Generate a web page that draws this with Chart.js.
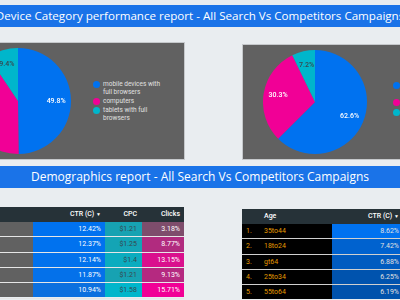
<!DOCTYPE html>
<html>
<head>
<meta charset="utf-8">
<script src="https://cdn.jsdelivr.net/npm/chart.js@4"></script>
<style>
  body { margin: 0; width: 400px; height: 300px; overflow: hidden; background: #e9edf0; position: relative; font-family: Roboto, sans-serif; }
  .banner { position: absolute; left: 0; width: 400px; height: 22px; background: #1a73e8; color: #fff; font-family: 'Open Sans', sans-serif; font-size: 12px; line-height: 22px; white-space: nowrap; overflow: hidden; display: flex; justify-content: center; }
  .banner span { flex: none; }
  .panel { position: absolute; background: #616161; border: 1px solid #c5c8cb; box-sizing: border-box; }
  .pie { position: absolute; }
  .leg { position: absolute; color: #e0e0e0; font-size: 6.5px; line-height: 8px; white-space: nowrap; }
  .leg i { position: absolute; left: -10px; top: 0.5px; width: 7px; height: 7px; border-radius: 50%; }
  .cell { position: absolute; box-sizing: border-box; font-size: 7px; white-space: nowrap; overflow: hidden; }
</style>
</head>
<body>
<div class="banner" style="top:5px;font-size:11.6px"><span>Device Category performance report - All Search Vs Competitors Campaigns</span></div>
<div class="panel" style="left:-2px;top:42px;width:187px;height:118px"></div>
<div class="panel" style="left:242px;top:44px;width:170px;height:116px"></div>
<canvas id="pieAll" class="pie" width="106" height="106" style="left:-35px;top:48px"></canvas>
<canvas id="pieComp" class="pie" width="104" height="104" style="left:263px;top:50px"></canvas>
<div id="legAll"></div>
<div id="legComp"></div>
<div class="banner" style="top:166px"><span>Demographics report - All Search Vs Competitors Campaigns</span></div>
<div id="tblDevice"></div>
<div id="tblAge"></div>
<script>
// device category shares (%)
const deviceLabels = [['mobile devices with', 'full browsers'], ['computers'], ['tablets with full', 'browsers']];
const allSearchShare = [49.8, 40.8, 9.4];
const competitorsShare = [62.6, 30.3, 7.2];
const sliceColors = ['#0072f0', '#f10096', '#00b6cb'];

// left table (rows sorted by CTR)
const ctrValues = [12.42, 12.37, 12.14, 11.87, 10.94];
const cpcValues = [1.21, 1.25, 1.4, 1.21, 1.58];
const clickShares = [3.18, 8.77, 13.15, 9.13, 15.71];

// age table
const ageGroups = ['35to44', '18to24', 'gt64', '25to34', '55to64'];
const ageCtr = [8.62, 7.42, 6.88, 6.25, 6.19];

// draws the % text inside each slice
const sliceLabels = {
  id: 'sliceLabels',
  afterDatasetsDraw(chart) {
    const ctx = chart.ctx;
    const values = chart.data.datasets[0].data;
    chart.getDatasetMeta(0).data.forEach((arc, i) => {
      const mid = (arc.startAngle + arc.endAngle) / 2;
      const r = arc.outerRadius * 0.72;
      ctx.save();
      ctx.font = '500 7px Roboto';
      ctx.textAlign = 'center';
      ctx.textBaseline = 'middle';
      ctx.fillStyle = i === 2 ? '#37474f' : '#ffffff';
      ctx.fillText(values[i].toFixed(1) + '%', arc.x + Math.cos(mid) * r, arc.y + Math.sin(mid) * r);
      ctx.restore();
    });
  }
};

const makePie = (id, values) => new Chart(document.getElementById(id), {
  type: 'pie',
  data: {
    labels: deviceLabels.map(l => l.join(' ')),
    datasets: [{ data: values, backgroundColor: sliceColors, borderWidth: 0 }]
  },
  options: {
    responsive: false,
    animation: false,
    plugins: { legend: { display: false }, tooltip: { enabled: false } }
  },
  plugins: [sliceLabels]
});
makePie('pieAll', allSearchShare);
makePie('pieComp', competitorsShare);

// html legends
const drawLegend = (el, x, ys) => {
  el.innerHTML = deviceLabels.map((lines, i) =>
    `<div class="leg" style="left:${x}px;top:${ys[i] - 4}px"><i style="background:${sliceColors[i]}"></i>${lines.join('<br>')}</div>`
  ).join('');
};
drawLegend(document.getElementById('legAll'), 103, [84, 101, 110]);
drawLegend(document.getElementById('legComp'), 403, [85, 102, 112]);

// heatmap colour: blend from base towards colour by value / max
const heat = (hex, base, v, max) => {
  const c = [1, 3, 5].map(k => parseInt(hex.substr(k, 2), 16));
  const t = v / max;
  return 'rgb(' + c.map((ch, k) => Math.round(base[k] + (ch - base[k]) * t)).join(',') + ')';
};

const cell = (x, y, w, h, bg, color, text, align, pad, extra) =>
  `<div class="cell" style="left:${x}px;top:${y}px;width:${w}px;height:${h}px;background:${bg};color:${color};` +
  `text-align:${align};line-height:${h}px;padding:0 ${pad}px;${extra || ''}">${text}</div>`;

// left table
let html = '';
const hdr = '#263238';
html += cell(0, 207, 184, 15, hdr, '#fff', '', 'left', 0);
html += cell(33, 207, 72, 15, hdr, '#fff', 'CTR (C) <span style="font-size:5px">&#9660;</span>', 'right', 4, 'font-weight:500');
html += cell(105, 207, 37, 15, hdr, '#fff', 'CPC', 'right', 5, 'font-weight:500');
html += cell(142, 207, 42, 15, hdr, '#fff', 'Clicks', 'right', 4, 'font-weight:500');
const gray = [97, 97, 97];
ctrValues.forEach((v, i) => {
  const y = 222 + i * 15.3;
  html += cell(0, y, 33, 14.3, '#616161', '#fff', '', 'left', 0);
  html += cell(33, y, 72, 14.3, heat('#0072f0', gray, v, Math.max(...ctrValues)), '#fff', v.toFixed(2) + '%', 'right', 4);
  html += cell(105, y, 37, 14.3, heat('#00b6cb', gray, cpcValues[i], Math.max(...cpcValues)), '#37474f', '$' + cpcValues[i], 'right', 5);
  html += cell(142, y, 42, 14.3, heat('#f10096', gray, clickShares[i], Math.max(...clickShares)), '#fff', clickShares[i].toFixed(2) + '%', 'right', 4);
  html += `<div style="position:absolute;left:0;top:${y + 14.3}px;width:184px;height:1px;background:#e6e6e6"></div>`;
});
document.getElementById('tblDevice').innerHTML = html;

// age table
html = '';
html += cell(242, 209, 158, 15, hdr, '#fff', '', 'left', 0);
html += cell(262, 209, 70, 15, hdr, '#fff', 'Age', 'left', 2, 'font-weight:500');
html += cell(332, 209, 68, 15, hdr, '#fff', 'CTR (C) <span style="font-size:5px">&#9660;</span>', 'right', 1, 'font-weight:500');
ageGroups.forEach((g, i) => {
  const y = 224 + i * 15.3;
  html += cell(242, y, 20, 14.3, '#000', '#e69a00', (i + 1) + '.', 'left', 4);
  html += cell(262, y, 70, 14.3, '#000', '#e69a00', g, 'left', 2);
  html += cell(332, y, 68, 14.3, heat('#0072f0', [0, 0, 0], ageCtr[i], Math.max(...ageCtr)), '#e0e0e0', ageCtr[i].toFixed(2) + '%', 'right', 1);
  html += `<div style="position:absolute;left:242px;top:${y + 14.3}px;width:158px;height:1px;background:#d0d0d0"></div>`;
});
document.getElementById('tblAge').innerHTML = html;
</script>
</body>
</html>
